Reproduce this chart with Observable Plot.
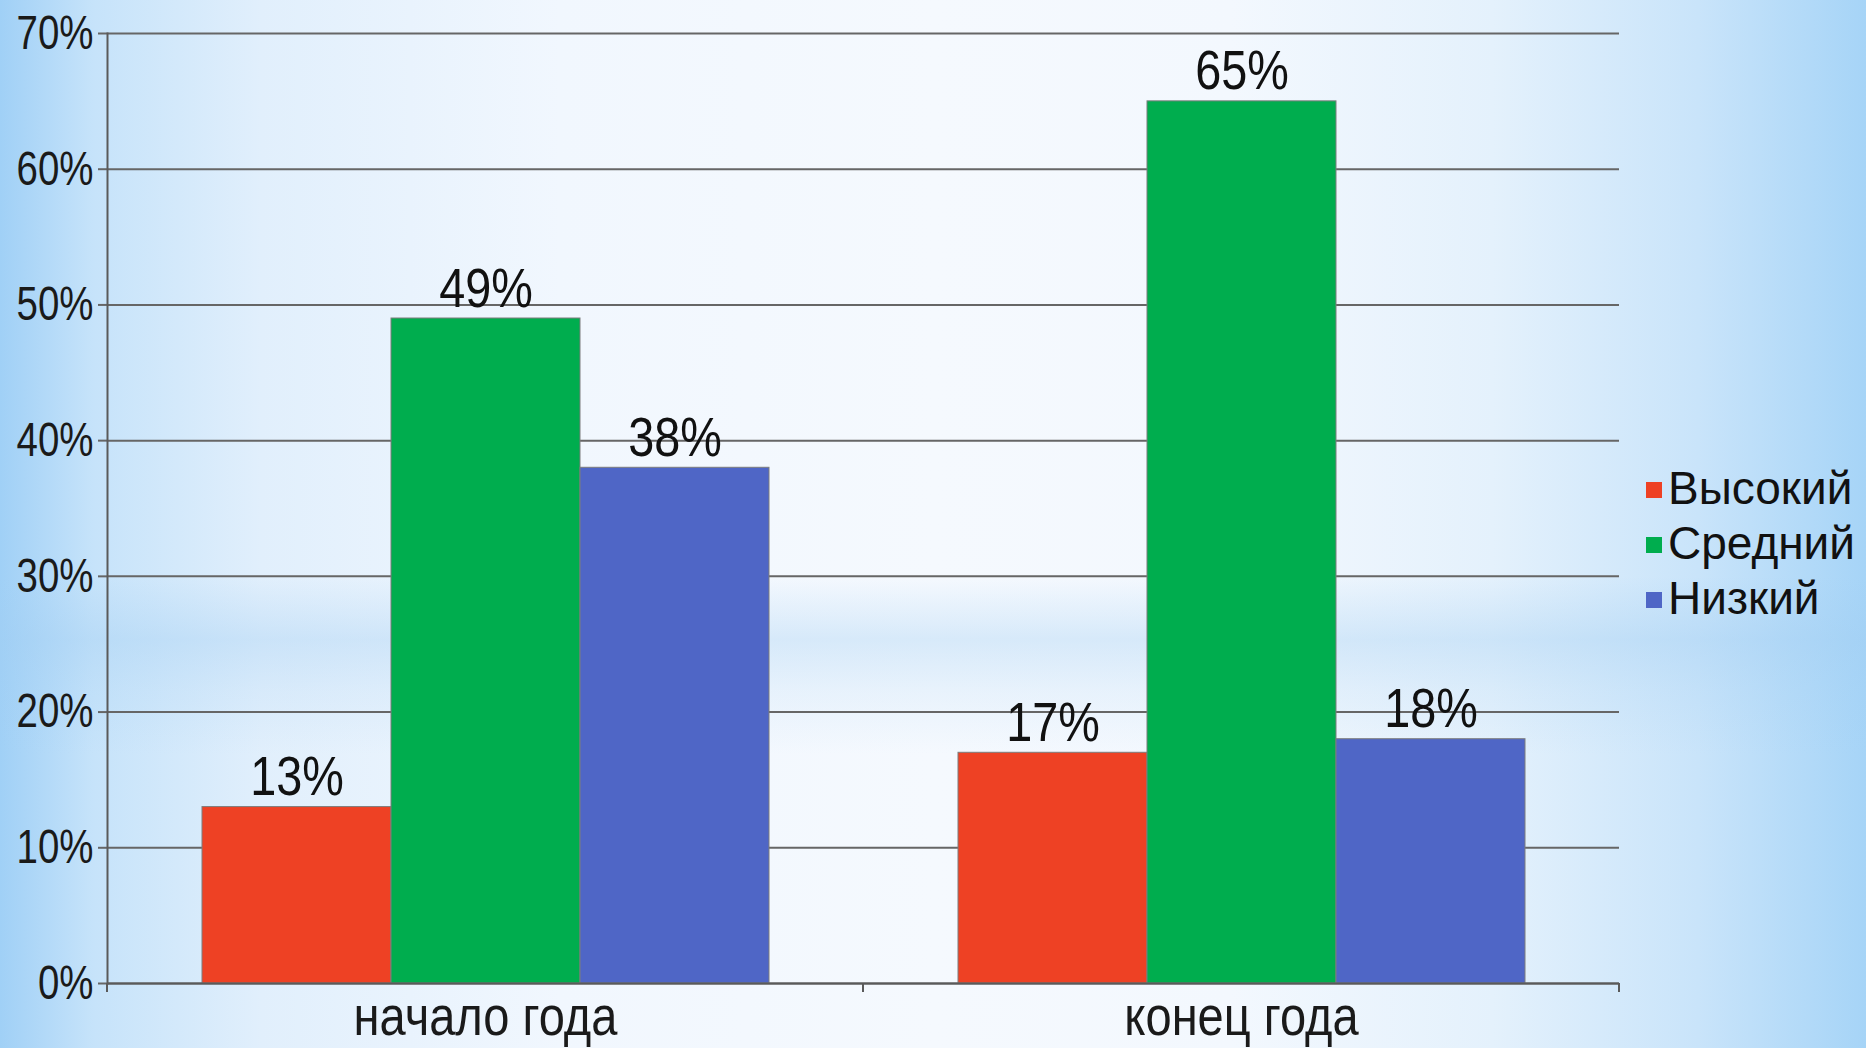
<!DOCTYPE html>
<html>
<head>
<meta charset="utf-8">
<script src="https://cdn.jsdelivr.net/npm/d3@7"></script>
<script src="https://cdn.jsdelivr.net/npm/@observablehq/plot@0.6"></script>
<style>
  html, body { margin: 0; padding: 0; }
  #wrap {
    position: relative;
    width: 1866px; height: 1048px; overflow: hidden;
    background:
      linear-gradient(to bottom, rgba(255,255,255,0) 0%, rgba(255,255,255,0) 55%, rgba(160,205,242,0.35) 61%, rgba(160,205,242,0.15) 66%, rgba(255,255,255,0) 72%),
      linear-gradient(to right, #a0d0f6 0%, #c6e3fa 5%, #e1effc 14%, #f1f7fe 30%, #f5f9fe 50%, #f3f8fe 66%, #e4f1fc 80%, #c9e4fa 91%, #a6d4f7 100%);
  }
  #chart { position: absolute; left: 0; top: 0; }
  #legend {
    position: absolute; left: 1646px; top: 460px;
    font-family: "Liberation Sans", Arial, sans-serif; font-size: 46px; color: #111;
  }
  #legend .row { display: flex; align-items: center; height: 55px; }
  #legend .sw { width: 16px; height: 16px; margin-right: 6px; margin-top: 4px; }
</style>
</head>
<body>
<div id="wrap">
  <div id="chart"></div>
  <div id="legend"></div>
</div>
<script>
// ---- data ----
const periods = ["начало года", "конец года"];
const levels = ["Высокий", "Средний", "Низкий"];
const startValues = [13, 49, 38];
const endValues = [17, 65, 18];
const colors = ["#ee4124", "#00ad4e", "#4f66c6"];
const yTicks = [0, 10, 20, 30, 40, 50, 60, 70];

const rows = [];
levels.forEach((lv, i) => rows.push({period: periods[0], level: lv, value: startValues[i]}));
levels.forEach((lv, i) => rows.push({period: periods[1], level: lv, value: endValues[i]}));

const axisColor = "#5a5a5a";
const sans = '"Liberation Sans", Arial, sans-serif';

function edgeTick(side) {
  return (index, scales, values, dims) => {
    const x = side === "left" ? dims.marginLeft : dims.width - dims.marginRight;
    const y = dims.height - dims.marginBottom;
    return d3.create("svg:line")
      .attr("x1", x).attr("x2", x)
      .attr("y1", y).attr("y2", y + 9)
      .attr("stroke", axisColor).attr("stroke-width", 2)
      .node();
  };
}

const plot = Plot.plot({
  width: 1866,
  height: 1048,
  marginLeft: 107,
  marginRight: 247,
  marginTop: 33,
  marginBottom: 65,
  style: {background: "transparent", fontFamily: sans, color: "#111"},
  fx: {domain: periods, padding: 0, axis: null, label: null},
  x: {domain: levels, paddingInner: 0, paddingOuter: 0.5, axis: null},
  y: {domain: [0, 70], ticks: yTicks, label: null, axis: null},
  color: {domain: levels, range: colors},
  marks: [
    Plot.gridY(yTicks, {stroke: "#666666", strokeOpacity: 1, strokeWidth: 2}),
    Plot.axisY(yTicks, {
      anchor: "left", tickSize: 9, tickPadding: 5, stroke: "#666666", strokeWidth: 2,
      tickFormat: d => d + "%", fontSize: 48, fontFamily: sans, fill: "#1a1a1a", label: null
    }),
    Plot.barY(rows, {
      fx: "period", x: "level", y: "value", fill: "level",
      stroke: "#7d7d7d", strokeWidth: 1, inset: 0
    }),
    Plot.frame({anchor: "left", facetAnchor: "left", stroke: axisColor, strokeWidth: 2}),
    Plot.ruleY([0], {stroke: axisColor, strokeWidth: 2}),
    Plot.ruleY([0], {render: edgeTick("left")}),
    Plot.ruleY([0], {facetAnchor: "right", render: edgeTick("right")}),
    Plot.text(rows, {
      fx: "period", x: "level", y: "value", text: d => d.value + "%",
      lineAnchor: "bottom", dy: -12, fontSize: 55, fontFamily: sans,
      fill: "#111"
    }),
    Plot.axisFx({anchor: "bottom", tickSize: 0, tickPadding: 12, fontSize: 56, fontFamily: sans, fill: "#1a1a1a", label: null})
  ]
});
document.getElementById("chart").appendChild(plot);

// condense text horizontally (narrow look of the original)
function condense(selector, factor) {
  d3.select(plot).selectAll(selector).each(function() {
    const len = this.getComputedTextLength();
    this.setAttribute("textLength", (len * factor).toFixed(1));
    this.setAttribute("lengthAdjust", "spacingAndGlyphs");
  });
}
condense('g[aria-label="y-axis tick label"] text', 0.8);
condense('g[aria-label="fx-axis tick label"] text', 0.84);
condense('g[aria-label="text"] text', 0.85);

// legend
const legend = d3.select("#legend");
levels.forEach((lv, i) => {
  const r = legend.append("div").attr("class", "row");
  r.append("div").attr("class", "sw").style("background", colors[i]);
  r.append("span").text(lv);
});
</script>
</body>
</html>
